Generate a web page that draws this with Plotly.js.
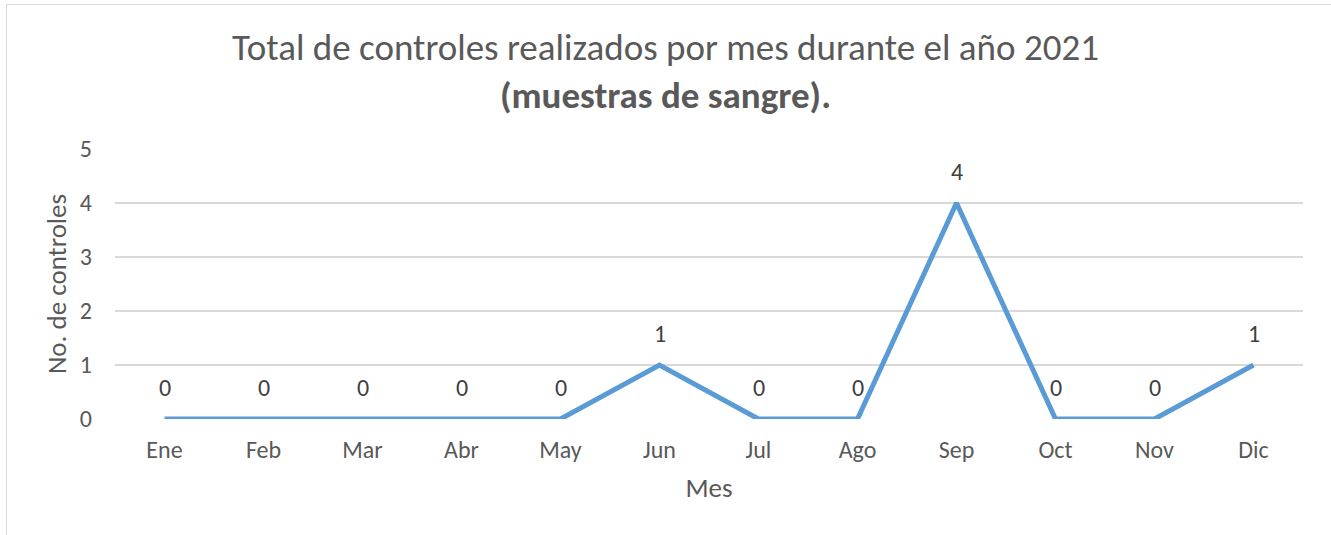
<!DOCTYPE html>
<html>
<head>
<meta charset="utf-8">
<script src="https://cdn.plot.ly/plotly-3.0.1.min.js"></script>
<style>
html,body{margin:0;padding:0;background:#fff;width:1331px;height:535px;overflow:hidden;}
#chart{position:absolute;left:0;top:0;width:1331px;height:535px;}
.bl{position:absolute;left:6px;top:4px;width:1px;height:540px;background:#d9d9d9;}
.bt{position:absolute;left:6px;top:4px;width:1330px;height:1px;background:#d9d9d9;}
</style>
</head>
<body>
<div id="chart"></div>
<div class="bl"></div>
<div class="bt"></div>
<script>
const months = ["Ene","Feb","Mar","Abr","May","Jun","Jul","Ago","Sep","Oct","Nov","Dic"];
const controles = [0,0,0,0,0,1,0,0,4,0,0,1];
const yTicks = [0,1,2,3,4,5];

const font = "Carlito, Calibri, 'Open Sans', 'Liberation Sans', sans-serif";
const grey = "#595959";

const trace = {
  x: months, y: controles, type: "scatter", mode: "lines",
  line: {color: "#5B9BD5", width: 5},
  hoverinfo: "skip"
};

const annotations = months.map((m, i) => ({
  x: m, y: controles[i], xref: "x", yref: "y",
  text: String(controles[i]), showarrow: false, yshift: 32,
  font: {family: font, size: 24, color: "#404040"}
}));

const layout = {
  width: 1331, height: 535,
  paper_bgcolor: "rgba(0,0,0,0)", plot_bgcolor: "rgba(0,0,0,0)",
  margin: {l: 115, r: 28, t: 149, b: 116},
  showlegend: false,
  title: {
    text: "Total de controles realizados por mes durante el año 2021<br><b>(muestras de sangre).</b>",
    font: {family: font, size: 37, color: grey},
    x: 0.5, xanchor: "center", y: 0.888, yanchor: "middle"
  },
  xaxis: {
    type: "category", range: [-0.5, 11.5],
    showgrid: false, zeroline: false, showline: false,
    ticks: "", tickfont: {family: font, size: 24, color: grey},
    ticklabelstandoff: 14,
    title: {text: "Mes", font: {family: font, size: 27, color: grey}, standoff: 15}
  },
  yaxis: {
    range: [0, 5], tickvals: yTicks, ticktext: yTicks.map(String),
    showgrid: true, gridcolor: "#d9d9d9", gridwidth: 1.5,
    zeroline: false, showline: false, ticks: "",
    tickfont: {family: font, size: 24, color: grey},
    ticklabelstandoff: 22,
    title: {text: "No. de controles", font: {family: font, size: 27, color: grey}, standoff: 5}
  },
  annotations: annotations
};

Plotly.newPlot("chart", [trace], layout, {staticPlot: true, displayModeBar: false});
</script>
</body>
</html>
